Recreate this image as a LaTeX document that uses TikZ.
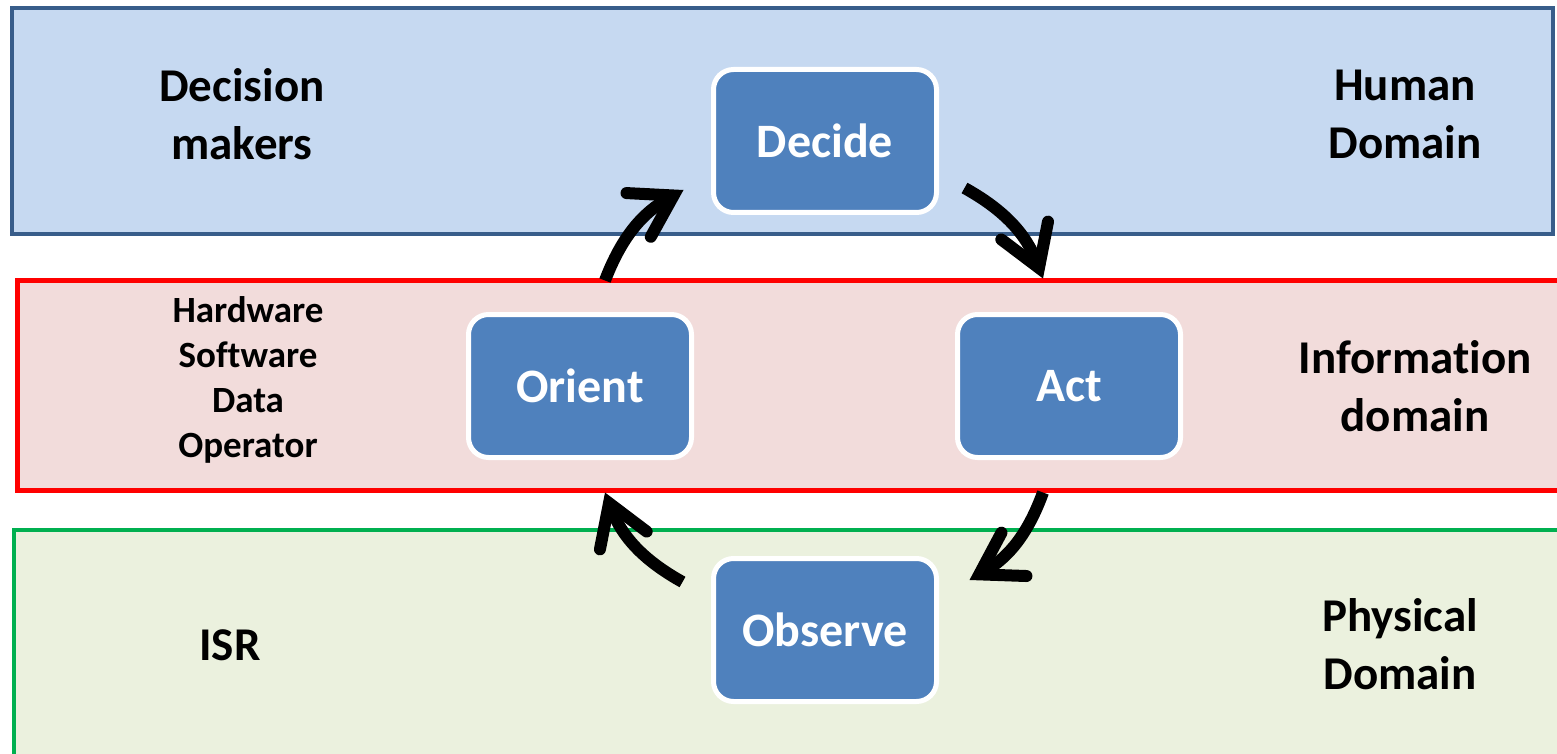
\documentclass[tikz,border=0pt]{standalone}
\usepackage{fontspec}
\setmainfont{Carlito}[Ligatures=NoCommon]
\usepackage{xcolor}
\usepackage{tikz}
\usetikzlibrary{arrows.meta}

\definecolor{humanfill}{RGB}{198,217,241}
\definecolor{humanline}{RGB}{56,93,138}
\definecolor{infofill}{RGB}{242,220,219}
\definecolor{physfill}{RGB}{235,241,222}
\definecolor{physline}{RGB}{0,176,80}
\definecolor{oodafill}{RGB}{79,129,189}

\begin{document}
\begin{tikzpicture}[x=0.5pt,y=-0.5pt,
    oodabox/.style={draw=white,line width=2.5pt,fill=oodafill,rounded corners=10pt,
      minimum width=111.5pt,minimum height=71.5pt,outer sep=0pt,
      text=white,font=\fontsize{24}{29}\selectfont\bfseries},
    bandtext/.style={align=center,font=\fontsize{23.5}{29}\selectfont\bfseries},
    smalltext/.style={align=center,font=\fontsize{18.5}{22.5}\selectfont\bfseries},
    oodaarrow/.style={line width=6pt,bend left=20,
      -{Straight Barb[line cap=round,line join=miter,length=20pt,width=25pt]}}]
\useasboundingbox (0,0) rectangle (1557,754);

    % domain bands
    \draw[humanline,fill=humanfill,line width=2pt] (12,8) rectangle (1553,234);
    \draw[red,fill=infofill,line width=2.5pt] (17,280) rectangle (1575,490);
    \draw[physline,fill=physfill,line width=2pt] (14,530) rectangle (1575,756);

    % band labels
    \node[bandtext] (makers) at (242,114) {Decision\\makers};
    \node[bandtext] (human) at (1405,114) {Human\\Domain};
    \node[smalltext] (parts) at (248,380) {Hardware\\Software\\Data\\Operator};
    \node[bandtext] (info) at (1415,386) {Information\\domain};
    \node[bandtext] (isr) at (230,645) {ISR};
    \node[bandtext] (phys) at (1400,644) {Physical\\Domain};

    % OODA loop
    \node[oodabox] (decide) at (825,141) {Decide};
    \node[oodabox] (orient) at (580,386) {Orient};
    \node[oodabox] (act) at (1069,386) {Act};
    \node[oodabox] (observe) at (825,630) {Observe};

    \draw[oodaarrow] ([xshift=12.5pt,yshift=17pt]orient.north) to ([xshift=-15pt,yshift=-24.5pt]decide.west);
    \draw[oodaarrow] ([xshift=14pt,yshift=-23.5pt]decide.east) to ([xshift=-13pt,yshift=18pt]act.north);
    \draw[oodaarrow] ([xshift=-13pt,yshift=-17.5pt]act.south) to ([xshift=16.5pt,yshift=25pt]observe.east);
    \draw[oodaarrow] ([xshift=-15.5pt,yshift=24pt]observe.west) to ([xshift=12.5pt,yshift=-17.5pt]orient.south);

\end{tikzpicture}
\end{document}
